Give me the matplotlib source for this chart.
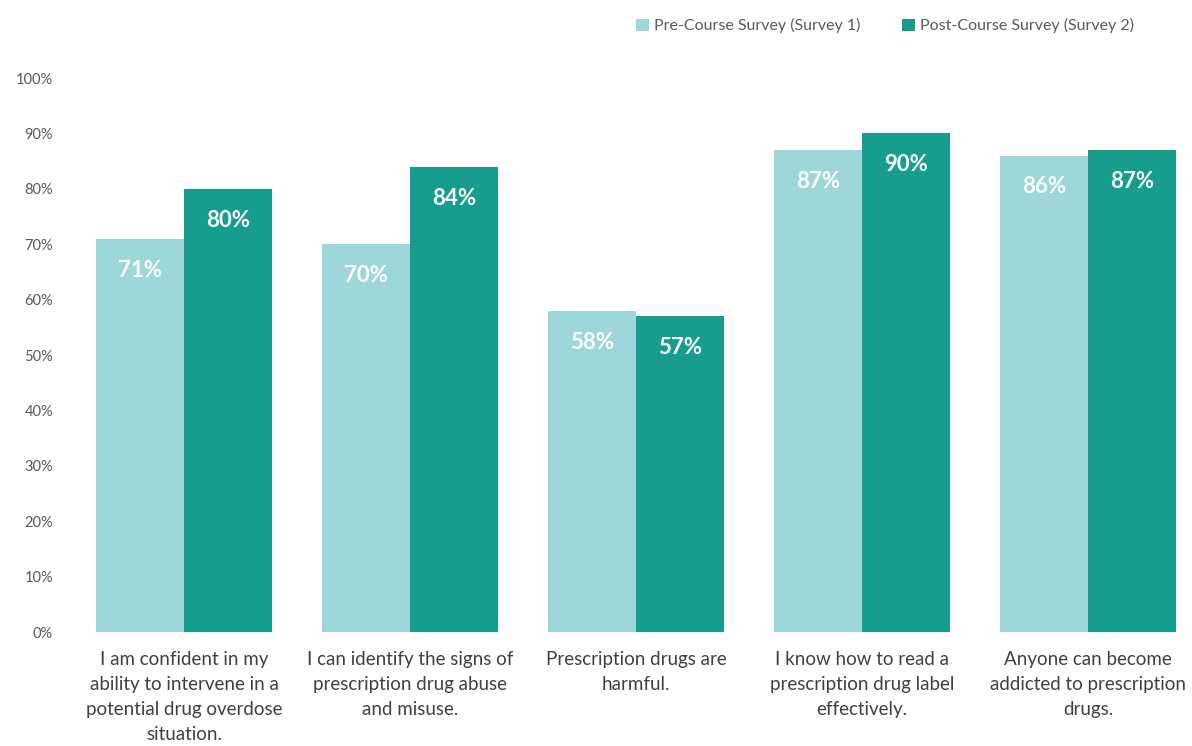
import numpy as np
import matplotlib.pyplot as plt

#data
categories = ["I am confident in my\nability to intervene in a\npotential drug overdose\nsituation.",
              "I can identify the signs of\nprescription drug abuse\nand misuse.",
              "Prescription drugs are\nharmful.",
              "I know how to read a\nprescription drug label\neffectively.",
              "Anyone can become\naddicted to prescription\ndrugs."]
pre_course = [71, 70, 58, 87, 86]
post_course = [80, 84, 57, 90, 87]
series_names = ["Pre-Course Survey (Survey 1)", "Post-Course Survey (Survey 2)"]

light = '#9dd7d9'
dark = '#169d8e'

plt.rcParams['font.family'] = ['Lato', 'DejaVu Sans']

fig = plt.figure(figsize=(11.92, 7.46), dpi=100)
ax = fig.add_axes([0.0596, 0.1528, 0.9404, 0.7426])

x = np.arange(len(categories))
w = 0.39
b1 = ax.bar(x - w/2, pre_course, w, color=light, label=series_names[0])
b2 = ax.bar(x + w/2, post_course, w, color=dark, label=series_names[1])

# value labels inside the bars near the top
for bars, vals in ((b1, pre_course), (b2, post_course)):
    for r, v in zip(bars, vals):
        ax.annotate(f"{v}%", (r.get_x() + r.get_width()/2, v), xytext=(0, -15),
                    textcoords='offset points', ha='center', va='top',
                    color='white', fontsize=16, fontweight='bold')

ax.set_ylim(0, 100)
ax.set_xlim(-0.5, 4.46)
ax.set_yticks(range(0, 101, 10))
ax.set_yticklabels([f"{t}%" for t in range(0, 101, 10)])
ax.set_xticks(x)
ax.set_xticklabels(categories, fontsize=13.5, color='#404040', linespacing=1.55, va='top')
ax.tick_params(axis='y', length=0, pad=13, labelsize=10.5, labelcolor='#595959')
ax.tick_params(axis='x', length=0, pad=14)
for s in ax.spines.values():
    s.set_visible(False)

fig.legend(loc='upper right', bbox_to_anchor=(0.963, 0.995), ncol=2, frameon=False,
           fontsize=11.5, labelcolor='#595959', handlelength=0.8, handleheight=0.8,
           handletextpad=0.3, columnspacing=2.6)

fig.savefig('out.png', dpi=100)
